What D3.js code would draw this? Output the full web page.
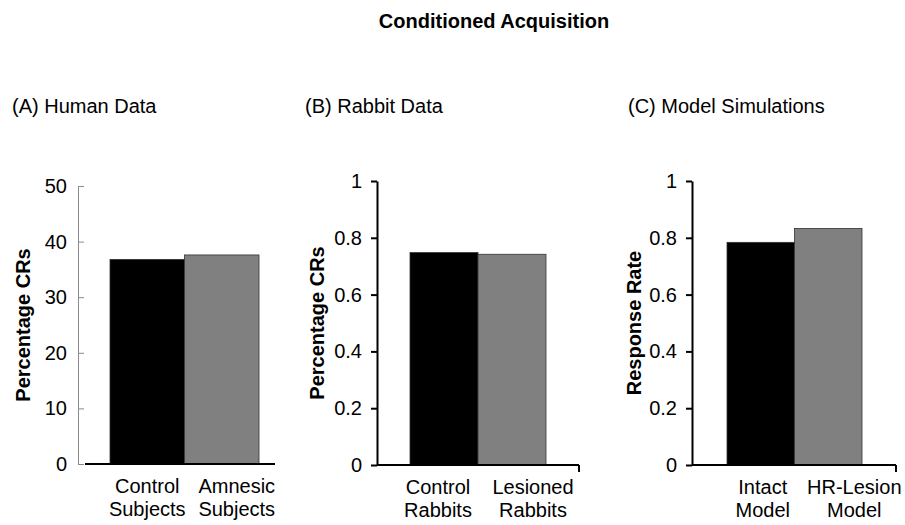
<!DOCTYPE html>
<html>
<head>
<meta charset="utf-8">
<script src="https://cdn.jsdelivr.net/npm/d3@7"></script>
<style>
  body { margin: 0; background: #fff; }
  svg text { font-family: "Liberation Sans", Arial, Helvetica, sans-serif; fill: #000; }
</style>
</head>
<body>
<script>
// ---- data ----
var humanCats = [["Control", "Subjects"], ["Amnesic", "Subjects"]];
var humanVals = [36.8, 37.6];
var humanTicks = [0, 10, 20, 30, 40, 50];

var rabbitCats = [["Control", "Rabbits"], ["Lesioned", "Rabbits"]];
var rabbitVals = [0.748, 0.742];

var modelCats = [["Intact", "Model"], ["HR-Lesion", "Model"]];
var modelVals = [0.784, 0.833];

var rateTicks = [0, 0.2, 0.4, 0.6, 0.8, 1];

var barColors = ["#000000", "#808080"];

var W = 905, H = 525;

var svg = d3.select("body").append("svg")
    .attr("width", W)
    .attr("height", H);

svg.append("text")
    .attr("x", 494)
    .attr("y", 28)
    .attr("text-anchor", "middle")
    .attr("font-size", 20)
    .attr("font-weight", "bold")
    .text("Conditioned Acquisition");

// layout per panel
var panels = [
    { title: "(A) Human Data", titleX: 12, cats: humanCats, vals: humanVals, ticks: humanTicks, max: 50,
      ylabel: "Percentage CRs", ylabelX: 30, axisX: 78, xEnd: 275, xStart: 85, bars: [110, 259],
      top: 186, bottom: 464, labelShift: [0, 15], soft: true },
    { title: "(B) Rabbit Data", titleX: 305, cats: rabbitCats, vals: rabbitVals, ticks: rateTicks, max: 1,
      ylabel: "Percentage CRs", ylabelX: 324, axisX: 377, xEnd: 579, xStart: 377, bars: [410, 546],
      top: 181, bottom: 465, labelShift: [-6, 21], soft: false },
    { title: "(C) Model Simulations", titleX: 628, cats: modelCats, vals: modelVals, ticks: rateTicks, max: 1,
      ylabel: "Response Rate", ylabelX: 641, axisX: 692, xEnd: 896, xStart: 692, bars: [727, 862],
      top: 181, bottom: 465, labelShift: [2, 26], soft: false }
];

panels.forEach(drawPanel);

function drawPanel(p) {
    var g = svg.append("g");

    g.append("text")
        .attr("x", p.titleX)
        .attr("y", 113)
        .attr("font-size", 20)
        .text(p.title);

    var y = d3.scaleLinear().domain([0, p.max]).range([p.bottom, p.top]);
    var x = d3.scaleBand().domain(d3.range(p.vals.length)).range(p.bars).padding(0);

    // bars
    g.selectAll("rect.bar")
        .data(p.vals)
        .enter()
        .append("rect")
        .attr("class", "bar")
        .attr("x", function (d, i) { return x(i); })
        .attr("y", function (d) { return y(d); })
        .attr("width", x.bandwidth())
        .attr("height", function (d) { return y(0) - y(d); })
        .attr("fill", function (d, i) { return barColors[i]; })
        .attr("stroke", "#333")
        .attr("stroke-width", 0.8);

    // y axis
    var axisColor = p.soft ? "#8a8a8a" : "#000";
    var yAxis = d3.axisLeft(y)
        .tickValues(p.ticks)
        .tickFormat(d3.format("~g"))
        .tickSizeOuter(0)
        .tickSizeInner(p.soft ? -6 : 6)
        .tickPadding(p.soft ? 11 : 9);

    var ay = g.append("g")
        .attr("transform", "translate(" + p.axisX + ",0)")
        .call(yAxis);
    ay.select(".domain").attr("stroke", axisColor).attr("stroke-width", p.soft ? 1 : 2);
    ay.selectAll(".tick line").attr("stroke", axisColor).attr("stroke-width", p.soft ? 1 : 2);
    ay.selectAll(".tick text")
        .attr("font-size", 20)
        .attr("font-family", "Liberation Sans, Arial, sans-serif")
        .attr("fill", "#000");

    // x axis baseline
    g.append("line")
        .attr("x1", p.xStart)
        .attr("x2", p.xEnd)
        .attr("y1", y(0))
        .attr("y2", y(0))
        .attr("stroke", "#000")
        .attr("stroke-width", 2);

    if (!p.soft) {
        g.append("line")
            .attr("x1", p.xEnd)
            .attr("x2", p.xEnd)
            .attr("y1", y(0))
            .attr("y2", y(0) + 7)
            .attr("stroke", "#000")
            .attr("stroke-width", 2);
    }

    // category labels
    var lab = g.selectAll("text.cat")
        .data(p.cats)
        .enter()
        .append("text")
        .attr("class", "cat")
        .attr("text-anchor", "middle")
        .attr("font-size", 20)
        .attr("transform", function (d, i) {
            return "translate(" + (x(i) + x.bandwidth() / 2 + p.labelShift[i]) + "," + (p.bottom + 29) + ")";
        });
    lab.selectAll("tspan")
        .data(function (d) { return d; })
        .enter()
        .append("tspan")
        .attr("x", 0)
        .attr("dy", function (d, i) { return i === 0 ? 0 : 23; })
        .text(function (d) { return d; });

    // y label
    g.append("text")
        .attr("transform", "translate(" + p.ylabelX + "," + ((p.top + p.bottom) / 2) + ") rotate(-90)")
        .attr("text-anchor", "middle")
        .attr("font-size", 20)
        .attr("font-weight", "bold")
        .text(p.ylabel);
}
</script>
</body>
</html>
